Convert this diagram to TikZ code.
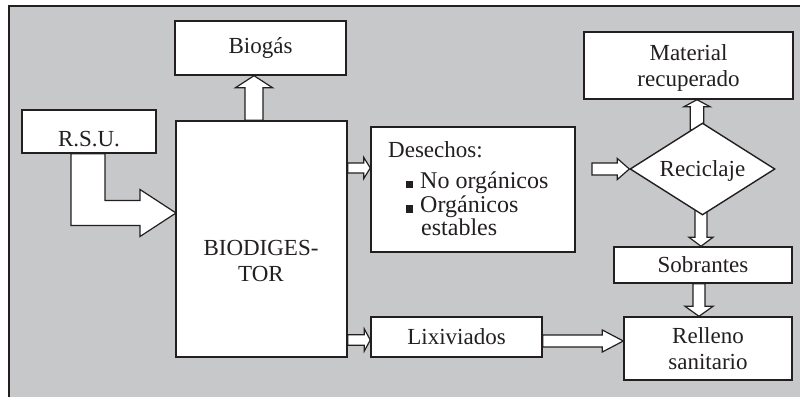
\documentclass[tikz,border=0pt]{standalone}
\usepackage{fontspec}
\setmainfont{Liberation Serif}
\usetikzlibrary{calc,shapes.geometric}
\pgfdeclarelayer{bgl}
\pgfdeclarelayer{arrl}
\pgfsetlayers{bgl,arrl,main}
\definecolor{panel}{RGB}{199,200,202}
\definecolor{ink}{RGB}{35,31,32}
% #1 start, #2 tip, #3 shaft half width, #4 head half width, #5 head length
\newcommand{\ArrR}[5]{\filldraw[blockarr] let \p1=(#1), \p2=(#2) in
  (\x1,\y2+#3pt) -- (\x2-#5pt,\y2+#3pt) -- (\x2-#5pt,\y2+#4pt) -- (\p2) --
  (\x2-#5pt,\y2-#4pt) -- (\x2-#5pt,\y2-#3pt) -- (\x1,\y2-#3pt) -- cycle;}
\newcommand{\ArrU}[5]{\filldraw[blockarr] let \p1=(#1), \p2=(#2) in
  (\x2-#3pt,\y1) -- (\x2-#3pt,\y2-#5pt) -- (\x2-#4pt,\y2-#5pt) -- (\p2) --
  (\x2+#4pt,\y2-#5pt) -- (\x2+#3pt,\y2-#5pt) -- (\x2+#3pt,\y1) -- cycle;}
\newcommand{\ArrD}[5]{\filldraw[blockarr] let \p1=(#1), \p2=(#2) in
  (\x2-#3pt,\y1) -- (\x2-#3pt,\y2+#5pt) -- (\x2-#4pt,\y2+#5pt) -- (\p2) --
  (\x2+#4pt,\y2+#5pt) -- (\x2+#3pt,\y2+#5pt) -- (\x2+#3pt,\y1) -- cycle;}
\newcommand{\bul}{\rule{7.5pt}{7.5pt}\hspace{7pt}}
\begin{document}
\begin{tikzpicture}[x=1pt,y=-1pt,
  box/.style={draw=ink, fill=white, line width=1.4pt, inner sep=0pt,
    font=\fontsize{23}{26}\selectfont, text=ink, align=center},
  lbl/.style={inner sep=0pt, font=\fontsize{23}{26}\selectfont, text=ink, align=center},
  lline/.style={inner sep=0pt, anchor=base west, font=\fontsize{23}{26}\selectfont, text=ink},
  bigline/.style={lline, font=\fontsize{24}{27}\selectfont},
  blockarr/.style={draw=ink, fill=white, line width=1.2pt, line join=miter}]
\useasboundingbox (0,0) rectangle (800,396);
\begin{pgfonlayer}{bgl}
  \fill[panel] (9,6) rectangle (812,412);
  \draw[ink, line width=2pt] (9,412) -- (9,6) -- (812,6);
\end{pgfonlayer}

% nodes
\node[box, minimum width=171, minimum height=54] (biogas) at (260.5,48) {Biogás};
\node[box, minimum width=134, minimum height=43, text height=30pt, text depth=0pt] (rsu) at (89,131.5) {R.S.U.};
\node[box, minimum width=171, minimum height=236] (bio) at (261.5,239) {};
\node[lbl] (biotxt) at (261,261) {BIODIGES-\\TOR};
\node[box, minimum width=204, minimum height=125] (des) at (473,189.5) {};
\node[lline] (d1) at (388,157.5) {Desechos:};
\node[bigline] (d2) at (405.5,188) {\bul No orgánicos};
\node[bigline] (d3) at (405.5,212.5) {\bul Orgánicos};
\node[bigline] (d4) at (421,235) {estables};
\node[box, minimum width=171, minimum height=40] (lix) at (456.5,337) {Lixiviados};
\node[box, minimum width=209, minimum height=67, text depth=0pt] (mat) at (688.5,65.5) {Material\\recuperado};
\node[box, diamond, aspect=1.6, minimum width=145, minimum height=92, text depth=0pt] (rec) at (702.5,169) {Reciclaje};
\node[box, minimum width=178, minimum height=36] (sob) at (703,265) {Sobrantes};
\node[box, minimum width=168, minimum height=63] (rel) at (708,348.5) {Relleno\\sanitario};

% helper coordinates
\coordinate (c1) at (254,0);
\coordinate (c2) at (0,168);
\coordinate (c3) at (0,340);
\coordinate (c4) at (0,341);
\coordinate (desout) at (592,171);
\coordinate (c6) at (697,0);
\coordinate (c6s) at (697,130);
\coordinate (c7) at (701,0);
\coordinate (c7s) at (701,206);
\coordinate (c8) at (699,0);
\coordinate (rsuin) at (176,213);

\begin{pgfonlayer}{arrl}
  % R.S.U. -> BIODIGESTOR (bent block arrow)
  \filldraw[blockarr] let \p1=(rsu.south), \p2=(rsuin) in
    (\x1-18pt,\y1) -- (\x1-18pt,\y2-12.5pt) -- (\x2-36pt,\y2-12.5pt) --
    (\x2-36pt,\y2-23.5pt) -- (\p2) -- (\x2-36pt,\y2+23.5pt) --
    (\x2-36pt,\y2+12.5pt) -- (\x1+16pt,\y2+12.5pt) -- (\x1+16pt,\y1) -- cycle;
  \ArrU{c1 |- bio.north}{c1 |- biogas.south}{9}{18.5}{12}
  \ArrR{bio.east |- c2}{des.west |- c2}{5}{10.5}{6.5}
  \ArrR{bio.east |- c3}{lix.west |- c3}{5.3}{11}{6}
  \ArrR{lix.east |- c4}{rel.west |- c4}{6}{11}{21}
  \ArrR{desout}{rec.west}{6}{10.5}{12}
  \ArrU{c6s}{c6 |- mat.south}{6.7}{13}{7}
  \ArrD{c7s}{c7 |- sob.north}{6}{12}{9}
  \ArrD{c8 |- sob.south}{c8 |- rel.north}{6}{14}{10}
\end{pgfonlayer}
\end{tikzpicture}
\end{document}
